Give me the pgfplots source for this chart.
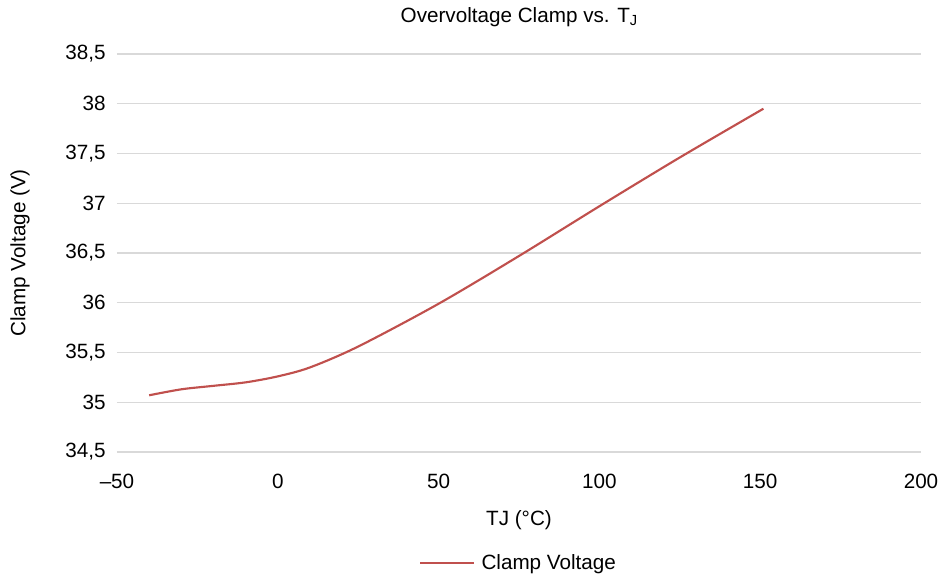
\documentclass[border=0pt]{standalone}
\usepackage{fontspec}
\setmainfont{Liberation Sans}
\usepackage{pgfplots}
\pgfplotsset{compat=1.18}
\definecolor{clampred}{HTML}{C0504D}
\definecolor{gridgray}{HTML}{D9D9D9}
\begin{document}
\begin{tikzpicture}
\path[use as bounding box] (-87.75pt,-96pt) rectangle (626.25pt,339pt);
\begin{axis}[
    at={(0,0)}, anchor=south west,
    scale only axis,
    width=603pt, height=298.5pt,
    xmin=-50, xmax=200,
    ymin=34.5, ymax=38.5,
    xtick={-50,0,50,100,150,200},
    xticklabels={\textendash50,0,50,100,150,200},
    ytick={34.5,35,35.5,36,36.5,37,37.5,38,38.5},
    yticklabels={{34,5},35,{35,5},36,{36,5},37,{37,5},38,{38,5}},
    ymajorgrids=true,
    grid style={gridgray, line width=0.8pt},
    axis line style={draw=none},
    major tick length=0pt,
    tick label style={font=\fontsize{15.5}{18}\selectfont},
    yticklabel style={xshift=-5pt},
    xticklabel style={yshift=-13pt},
    title={Overvoltage Clamp vs. T\raisebox{-0.3ex}{\fontsize{11}{12}\selectfont J}},
    title style={font=\fontsize{15.5}{18}\selectfont, at={(axis description cs:0.5,1.072)}, anchor=center},
    xlabel={TJ (°C)},
    ylabel={Clamp Voltage (V)},
    xlabel style={font=\fontsize{15.5}{18}\selectfont, at={(axis description cs:0.5,-0.171)}, anchor=center},
    ylabel style={font=\fontsize{15.5}{18}\selectfont, at={(axis description cs:-0.1206,0.5)}, anchor=center, rotate=0},
    legend style={draw=none, font=\fontsize{15.5}{18}\selectfont, at={(axis description cs:0.5,-0.279)}, anchor=center, legend columns=1},
    legend image code/.code={\draw[#1] (0pt,0pt) -- (40pt,0pt);},
]
\addplot[clampred, line width=1.6pt, smooth] coordinates {
    (-40,35.07) (-30,35.13) (-20,35.165) (-10,35.2) (0,35.26) (10,35.35)
    (25,35.56) (50,35.99) (75,36.47) (100,36.97) (125,37.46) (151,37.95)
};
\addlegendentry{\hspace{3pt}Clamp Voltage}
\end{axis}
\end{tikzpicture}
\end{document}
